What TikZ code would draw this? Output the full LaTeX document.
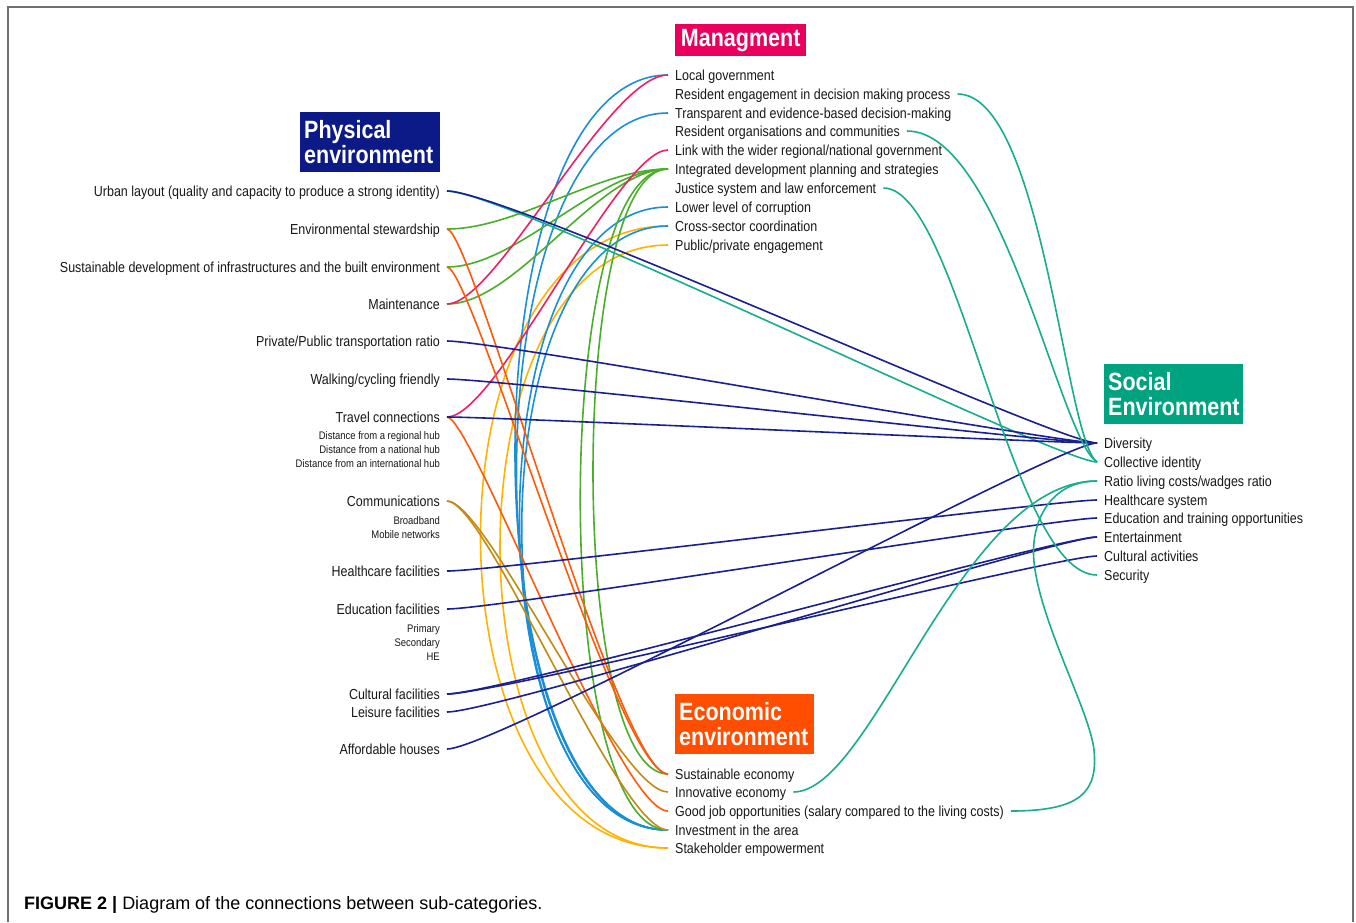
\documentclass[tikz,border=0pt]{standalone}
\usepackage{fontspec}
\setmainfont{Liberation Sans}
\newfontfamily\cond[FakeStretch=0.86]{Liberation Sans}

\definecolor{cPhys}{HTML}{0B1A87}
\definecolor{cMan}{HTML}{E8005C}
\definecolor{cSoc}{HTML}{00A37F}
\definecolor{cEco}{HTML}{FF4E00}
\definecolor{cNavy}{HTML}{1B2090}
\definecolor{cTeal}{HTML}{17AD8D}
\definecolor{cPink}{HTML}{EE1F64}
\definecolor{cGreen}{HTML}{4AAE2A}
\definecolor{cBlue}{HTML}{1A8FD6}
\definecolor{cYellow}{HTML}{FFB300}
\definecolor{cOrange}{HTML}{FF5A0A}
\definecolor{cGold}{HTML}{C38B12}
\definecolor{cText}{HTML}{1A1718}
\definecolor{cFrame}{HTML}{707070}

\tikzset{
  lbl/.style={font=\cond\fontsize{14.5}{17}\selectfont, text=cText, inner ysep=0pt, inner xsep=7pt, text height=12pt, text depth=2pt},
  lleft/.style={lbl, anchor=east},
  lright/.style={lbl, anchor=west},
  sublbl/.style={font=\cond\fontsize{11}{14}\selectfont, text=cText, align=right, anchor=north east, inner sep=0pt},
  titlebox/.style={font=\cond\bfseries\fontsize{25}{24.5}\selectfont, text=white, anchor=north west, inner xsep=4pt, inner ysep=0pt},
  conn/.style={line width=1.6pt},
}

\begin{document}
\begin{tikzpicture}[x=1pt,y=-1pt]
\useasboundingbox (0,0) rectangle (1356,922);
\fill[white] (0,0) rectangle (1356,922);
\draw[cFrame, line width=1.5pt] (8,922) -- (8,7) -- (1353,7) -- (1353,922);

% ---- title boxes
\node[titlebox, fill=cPhys, minimum width=140pt, minimum height=60pt, text width=132pt, align=left] (tPhys) at (300,112) {Physical\\environment};
\node[titlebox, fill=cMan, minimum width=131pt, minimum height=32pt, text width=123pt, align=center] (tMan) at (675,24) {Managment};
\node[titlebox, fill=cSoc, minimum width=139pt, minimum height=60pt, text width=131pt, align=left] (tSoc) at (1104,364) {Social\\Environment};
\node[titlebox, fill=cEco, minimum width=139pt, minimum height=60pt, text width=131pt, align=left] (tEco) at (675,694) {Economic\\environment};

% ---- physical environment
\node[lleft] (l1) at (447,191) {Urban layout (quality and capacity to produce a strong identity)};
\node[lleft] (l2) at (447,229) {Environmental stewardship};
\node[lleft] (l3) at (447,267) {Sustainable development of infrastructures and the built environment};
\node[lleft] (l4) at (447,304) {Maintenance};
\node[lleft] (l5) at (447,341) {Private/Public transportation ratio};
\node[lleft] (l6) at (447,379) {Walking/cycling friendly};
\node[lleft] (l7) at (447,417) {Travel connections};
\node[sublbl] (l7s) at (440,431) {Distance from a regional hub\\Distance from a national hub\\Distance from an international hub};
\node[lleft] (l8) at (447,501) {Communications};
\node[sublbl] (l8s) at (440,516) {Broadband\\Mobile networks};
\node[lleft] (l9) at (447,571) {Healthcare facilities};
\node[lleft] (l10) at (447,609) {Education facilities};
\node[sublbl] (l10s) at (440,624) {Primary\\Secondary\\HE};
\node[lleft] (l11) at (447,694) {Cultural facilities};
\node[lleft] (l12) at (447,712) {Leisure facilities};
\node[lleft] (l13) at (447,749) {Affordable houses};

% ---- management
\node[lright] (m1) at (668,75) {Local government};
\node[lright] (m2) at (668,94) {Resident engagement in decision making process};
\node[lright] (m3) at (668,113) {Transparent and evidence-based decision-making};
\node[lright] (m4) at (668,131) {Resident organisations and communities};
\node[lright] (m5) at (668,150) {Link with the wider regional/national government};
\node[lright] (m6) at (668,169) {Integrated development planning and strategies};
\node[lright] (m7) at (668,188) {Justice system and law enforcement};
\node[lright] (m8) at (668,207) {Lower level of corruption};
\node[lright] (m9) at (668,226) {Cross-sector coordination};
\node[lright] (m10) at (668,245) {Public/private engagement};

% ---- social
\node[lright] (s1) at (1097,443) {Diversity};
\node[lright] (s2) at (1097,462) {Collective identity};
\node[lright] (s3) at (1097,481) {Ratio living costs/wadges ratio};
\node[lright] (s4) at (1097,500) {Healthcare system};
\node[lright] (s5) at (1097,518) {Education and training opportunities};
\node[lright] (s6) at (1097,537) {Entertainment};
\node[lright] (s7) at (1097,556) {Cultural activities};
\node[lright] (s8) at (1097,575) {Security};

% ---- economic
\node[lright] (e1) at (668,774) {Sustainable economy};
\node[lright] (e2) at (668,792) {Innovative economy};
\node[lright] (e3) at (668,811) {Good job opportunities (salary compared to the living costs)};
\node[lright] (e4) at (668,830) {Investment in the area};
\node[lright] (e5) at (668,848) {Stakeholder empowerment};

% ---- caption
\node[anchor=base west, inner sep=0pt, font=\fontsize{18}{20}\selectfont, text=black] (cap) at (24,909) {\textbf{FIGURE 2 |} Diagram of the connections between sub-categories.};

% ---- connectors: management -> economic
\draw[conn, cYellow] (m9.west) .. controls +(-250,0) and +(-250,0) .. (e5.west);
\draw[conn, cYellow] (m10.west) .. controls +(-224,0) and +(-224,0) .. (e5.west);
\draw[conn, cBlue] (m1.west) .. controls +(-204,0) and +(-204,0) .. (e4.west);
\draw[conn, cBlue] (m3.west) .. controls +(-202,0) and +(-202,0) .. (e4.west);
\draw[conn, cBlue] (m8.west) .. controls +(-198,0) and +(-198,0) .. (e4.west);
\draw[conn, cBlue] (m9.west) .. controls +(-195,0) and +(-195,0) .. (e4.west);
\draw[conn, cGreen] (m6.west) .. controls +(-100,0) and +(-100,0) .. (e1.west);
\draw[conn, cGreen] (m6.west) .. controls +(-117,0) and +(-117,0) .. (e4.west);

% ---- physical -> management
\draw[conn, cGreen] (l2.east) .. controls +(70,0) and +(-70,0) .. (m6.west);
\draw[conn, cGreen] (l3.east) .. controls +(70,0) and +(-70,0) .. (m6.west);
\draw[conn, cGreen] (l4.east) .. controls +(70,0) and +(-70,0) .. (m6.west);
\draw[conn, cPink] (l4.east) .. controls +(50,0) and +(-60,0) .. (m1.west);
\draw[conn, cPink] (l7.east) .. controls +(50,0) and +(-50,0) .. (m5.west);

% ---- physical -> economic
\draw[conn, cOrange] (l2.east) .. controls +(25,0) and +(-50,0) .. (e1.west);
\draw[conn, cOrange] (l3.east) .. controls +(25,0) and +(-50,0) .. (e1.west);
\draw[conn, cOrange] (l7.east) .. controls +(25,0) and +(-50,0) .. (e3.west);
\draw[conn, cGold] (l8.east) .. controls +(40,0) and +(-50,0) .. (e2.west);
\draw[conn, cGold] (l8.east) .. controls +(40,0) and +(-50,0) .. (e4.west);

% ---- physical -> social
\draw[conn, cTeal] (l1.east) .. controls +(60,0) and +(-40,0) .. (s2.west);
\draw[conn, cNavy] (l1.east) .. controls +(60,0) and +(-40,0) .. (s1.west);
\draw[conn, cNavy] (l5.east) .. controls +(50,0) and +(-40,0) .. (s1.west);
\draw[conn, cNavy] (l6.east) .. controls +(50,0) and +(-40,0) .. (s1.west);
\draw[conn, cNavy] (l7.east) .. controls +(50,0) and +(-40,0) .. (s1.west);
\draw[conn, cNavy] (l13.east) .. controls +(50,0) and +(-40,0) .. (s1.west);
\draw[conn, cNavy] (l9.east) .. controls +(50,0) and +(-40,0) .. (s4.west);
\draw[conn, cNavy] (l10.east) .. controls +(50,0) and +(-40,0) .. (s5.west);
\draw[conn, cNavy] (l11.east) .. controls +(50,0) and +(-40,0) .. (s6.west);
\draw[conn, cNavy] (l11.east) .. controls +(50,0) and +(-40,0) .. (s7.west);
\draw[conn, cNavy] (l12.east) .. controls +(50,0) and +(-40,0) .. (s6.west);

% ---- management / economic -> social
\draw[conn, cTeal] (m2.east) .. controls +(85,0) and +(-32,-22) .. (s2.west);
\draw[conn, cTeal] (m4.east) .. controls +(95,0) and +(-37,-22) .. (s2.west);
\draw[conn, cTeal] (m7.east) .. controls +(75,0) and +(-87,0) .. (s8.west);
\draw[conn, cTeal] (e2.east) .. controls +(80,0) and +(-137,0) .. (s3.west);
\draw[conn, cTeal] (e3.east) .. controls +(70,0) and (1098,792) .. (1094,750)
   .. controls (1090,712) and (1040,622) .. (1034,562)
   .. controls (1030,522) and (1050,481) .. (s3.west);
\end{tikzpicture}
\end{document}
